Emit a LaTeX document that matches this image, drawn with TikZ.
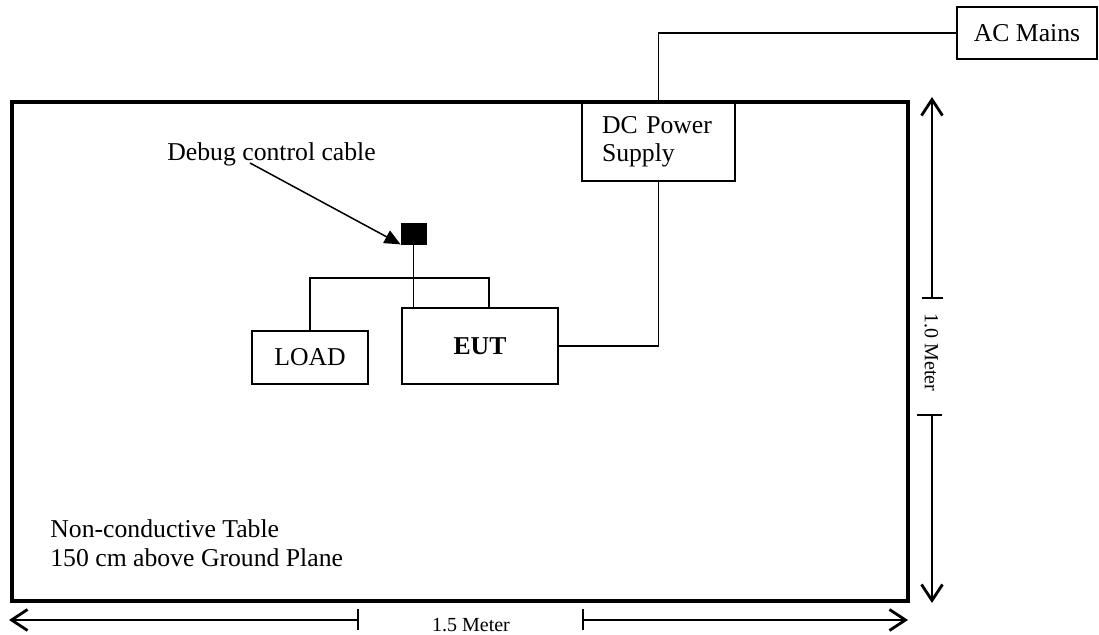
\documentclass[tikz,border=0pt]{standalone}
\usepackage{fontspec}
\setmainfont{Liberation Serif}
\usetikzlibrary{arrows.meta}

\begin{document}
\begin{tikzpicture}[
  x=0.5pt, y=-0.5pt,
  every node/.style={font=\fontsize{12.85}{14.25}\selectfont},
  box/.style={draw, line width=0.8pt, fill=white, inner sep=0pt, align=center},
  wire/.style={line width=0.75pt},
  dimline/.style={line width=0.8pt, -{Straight Barb[length=8pt,width=10.5pt,line width=1.4pt]}},
  dimtext/.style={font=\fontsize{10}{12}\selectfont, inner sep=0pt}
]
\useasboundingbox (0,0) rectangle (1099,635);

\node (table) [draw, line width=1.6pt, inner sep=0pt, minimum width=448pt, minimum height=249.5pt] at (460,351.5) {};
\node (tabletext) [anchor=west, align=left, inner sep=0pt] at (50,543) {Non-conductive Table\\150 cm above Ground Plane};

\node (acmains) [box, minimum width=70pt, minimum height=26pt] at (1027,33) {AC Mains};
\node (dcps) [box, align=left, text width=56.5pt, inner xsep=10pt, minimum height=39pt] at (658.5,142) {DC Power\\Supply};
\node (eut) [box, minimum width=78pt, minimum height=38pt] at (480,346) {\textbf{EUT}};
\node (load) [box, minimum width=58pt, minimum height=26.5pt] at (310,357.5) {LOAD};
\node (dbg) [draw, fill=black, inner sep=0pt, minimum width=12.5pt, minimum height=10.5pt] at (413.5,233.5) {};
\node (dbglabel) [anchor=base west, inner sep=0pt] at (167,161) {Debug control cable};

\coordinate (bus) at (489,278);

\draw[wire] (dcps.north) |- (acmains.west);
\draw[wire] (eut.east) -| (dcps.south);
\draw[wire] (dbg.south) -- (dbg.south |- eut.north);
\draw[wire] (load.north) -- (load.north |- bus) -- (bus) -- (bus |- eut.north);
\draw[wire, -{Triangle[length=8pt,width=7pt]}] ([xshift=41.5pt,yshift=-1pt]dbglabel.base west) -- (dbg.south west);

% 1.5 m
\coordinate (hl) at (9,620);
\coordinate (hm1) at (358,620);
\coordinate (hm2) at (583,620);
\coordinate (hr) at (908,620);
\draw[dimline] (hm1) -- (hl);
\draw[dimline] (hm2) -- (hr);
\draw[line width=0.8pt] ([yshift=5.25pt]hm1) -- ([yshift=-5.25pt]hm1);
\draw[line width=0.8pt] ([yshift=5.25pt]hm2) -- ([yshift=-5.25pt]hm2);
\node (hlen) [dimtext] at (471,625) {1.5 Meter};

% 1.0 m
\coordinate (vt) at (932,97);
\coordinate (vm1) at (932,298);
\coordinate (vm2) at (932,415);
\coordinate (vb) at (932,603);
\draw[dimline] (vm1) -- (vt);
\draw[dimline] (vm2) -- (vb);
\draw[line width=0.8pt] ([xshift=-5.25pt]vm1) -- ([xshift=5.25pt]vm1);
\draw[line width=0.8pt] ([xshift=-7.5pt]vm2) -- ([xshift=5pt]vm2);
\node (vlen) [dimtext, rotate=-90] at (931.5,352.5) {1.0 Meter};
\end{tikzpicture}
\end{document}
